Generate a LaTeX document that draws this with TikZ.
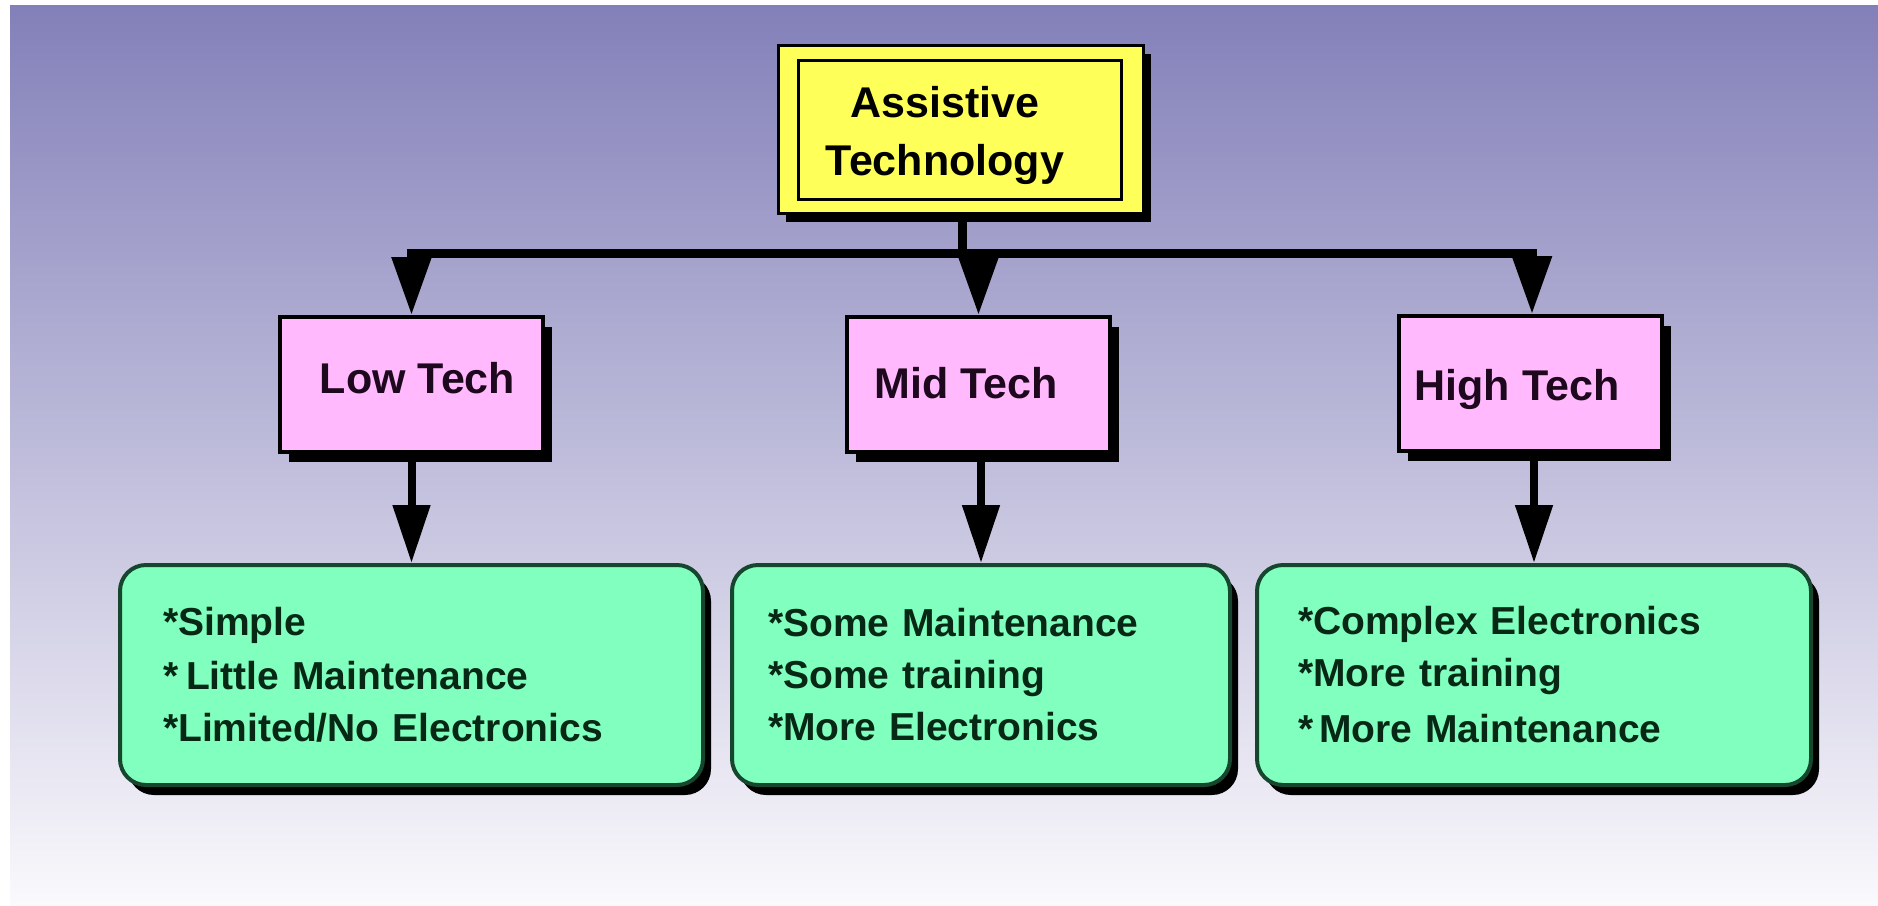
\documentclass[tikz,border=0pt]{standalone}
\usepackage{fontspec}
\setmainfont{Liberation Sans}
\usetikzlibrary{arrows.meta,shadows}
\definecolor{bgtop}{RGB}{131,128,185}
\definecolor{bgmid}{RGB}{205,205,225}
\definecolor{bgbot}{RGB}{250,249,252}
\definecolor{yel}{RGB}{255,255,90}
\definecolor{pnk}{RGB}{255,185,252}
\definecolor{grn}{RGB}{128,255,190}
\definecolor{grnline}{RGB}{22,70,45}
\definecolor{grntext}{RGB}{8,40,22}
\definecolor{pnktext}{RGB}{30,8,30}
\begin{document}
\begin{tikzpicture}[x=1pt,y=-1pt,
  topbox/.style={draw=black, line width=3pt, fill=yel, minimum width=365pt, minimum height=168pt,
    inner sep=0pt,
    drop shadow={shadow xshift=8pt, shadow yshift=-9pt, fill=black, opacity=1}},
  toptext/.style={inner sep=0pt, align=center, font=\fontsize{43}{58}\selectfont\bfseries},
  techbox/.style={draw=black, line width=4pt, fill=pnk, minimum width=263pt, minimum height=135pt, inner sep=0pt,
    drop shadow={shadow xshift=9pt, shadow yshift=-10pt, fill=black, opacity=1}},
  techtext/.style={inner sep=0pt, anchor=base, text=pnktext, font=\fontsize{43}{50}\selectfont\bfseries},
  notebox/.style={draw=grnline, line width=4pt, fill=grn, rounded corners=26pt, minimum height=220pt,
    inner ysep=0pt, align=left, text=grntext, font=\fontsize{39}{52}\selectfont\bfseries,
    drop shadow={shadow xshift=8pt, shadow yshift=-10pt, fill=black, opacity=1}},
  link/.style={line width=9pt, draw=black},
  arrow/.style={link, -{Triangle[length=58pt,width=38pt]}},
  arrowb/.style={line width=8pt, draw=black, -{Triangle[length=58pt,width=36pt]}},
]
\useasboundingbox (0,0) rectangle (1878,905);
\fill[white] (0,0) rectangle (1878,905);
\shade[top color=bgtop, middle color=bgmid, bottom color=bgbot] (10,5) rectangle (1878,905);

% top box
\node[topbox] (at) at (960.5,129) {};
\draw[line width=3pt] ([shift={(22,17)}]at.north west) rectangle ([shift={(-23,-15)}]at.south east);
\node[toptext] (attext) at (945,135) {Assistive\\Technology};

% tech boxes
\node[techbox] (low) at (411.5,384.5) {};
\node[techbox] (mid) at (978.5,384.5) {};
\node[techbox] (high) at (1530,383.5) {};
\node[techtext] (lowtext) at (417.5,393) {Low Tech};
\node[techtext] (midtext) at (966,398) {Mid Tech};
\node[techtext] (hightext) at (1517,400) {High Tech};

% description boxes
\node[notebox, minimum width=583pt, inner xsep=43pt, text width=497pt] (lowd) at (411.5,675)
  {*Simple\\{}\kern2pt*\kern8pt Little Maintenance\\{}*Limited/No Electronics};
\node[notebox, minimum width=498pt, inner xsep=36pt, text width=426pt] (midd) at (981,675)
  {*Some Maintenance\\{}*Some training\\{}*More Electronics};
\node[notebox, minimum width=554pt, inner xsep=41pt, text width=472pt] (highd) at (1534,675)
  {*Complex Electronics\\{}*More training\\{}\kern4pt*\kern6pt More Maintenance};

% connectors
\coordinate (bj) at (962,253);
\coordinate (bl) at (411.5,253);
\coordinate (bm) at (978.5,253);
\coordinate (br) at (1532,253);
\draw[link] (at.south -| bj) -- (bj);
\draw[link, line cap=rect] (bl) -- (br);
\draw[arrow] (bl) -- (low.north -| bl);
\draw[arrow] (bm) -- (mid.north -| bm);
\draw[arrow] (br) -- (high.north -| br);
\draw[arrowb] (low.south) -- (lowd.north);
\draw[arrowb] (midd.north |- mid.south) -- (midd.north);
\draw[arrowb] (highd.north |- high.south) -- (highd.north);
\end{tikzpicture}
\end{document}
